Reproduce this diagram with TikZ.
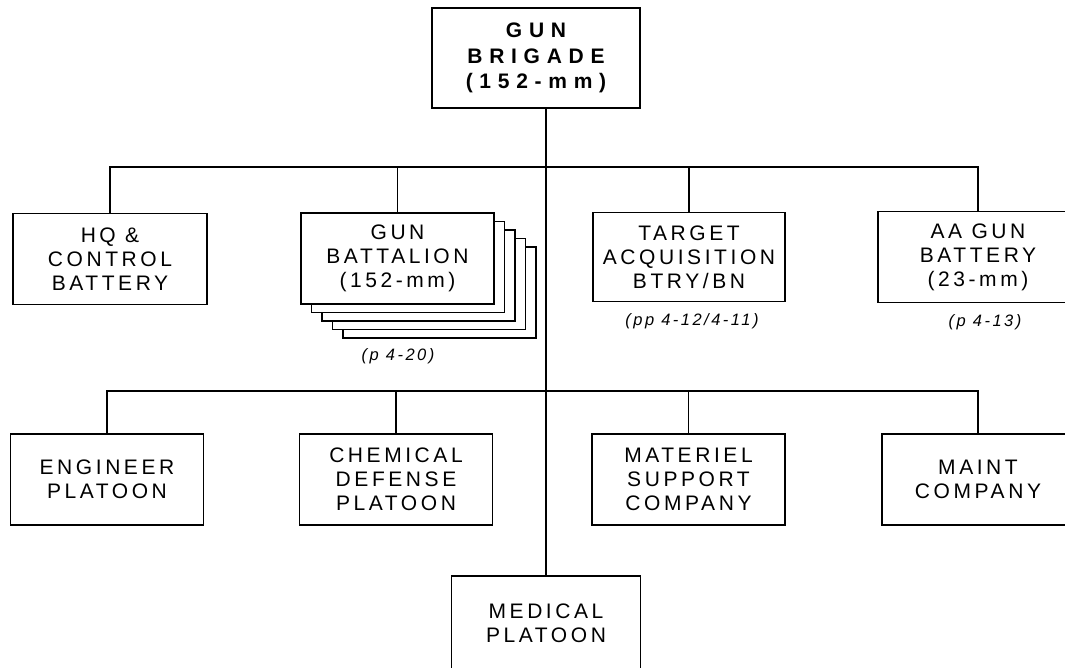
\documentclass[tikz,border=0pt]{standalone}
\usepackage{fontspec}
\setmainfont{Liberation Sans}
\newfontfamily\boxfont{Liberation Sans}[LetterSpace=17]
\newfontfamily\topfont{Liberation Sans}[LetterSpace=32]
\newfontfamily\notefont{Liberation Sans}[LetterSpace=15]
\tikzset{
  unit/.style={draw=black, line width=1.6pt, fill=white, inner sep=0pt, align=center,
    minimum width=193pt, minimum height=91pt,
    font=\boxfont\fontsize{21}{24}\selectfont},
  topunit/.style={unit, minimum width=208pt, minimum height=100pt,
    font=\topfont\bfseries\fontsize{21}{25.5}\selectfont},
  stackbox/.style={draw=black, line width=1.6pt, fill=white, minimum width=193pt, minimum height=91pt, inner sep=0pt},
  note/.style={inner sep=0pt, font=\notefont\itshape\fontsize{16.5}{19}\selectfont},
  link/.style={line width=1.6pt}
}
\begin{document}
\begin{tikzpicture}[x=1pt,y=-1pt]
\useasboundingbox (0,0) rectangle (1065,667);
\clip (0,0) rectangle (1065,667);
% top
\node[topunit] (top) at (536,58) {GUN\\BRIGADE\\(152-mm)};
% row 1
\node[unit, minimum width=194pt] (hq) at (110,259) {HQ \&\\CONTROL\\BATTERY};
\foreach \k in {4,3,2,1} {
  \node[stackbox] (gunback\k) at ({397.5+10.5*\k},{258.5+8.5*\k}) {};
}
\node[unit] (gun) at (397.5,258.5) {GUN\\BATTALION\\(152-mm)};
\node[unit, minimum width=192pt, minimum height=89pt] (ta) at (689,257) {TARGET\\ACQUISITION\\BTRY/BN};
\node[unit, minimum width=200pt] (aa) at (978,257) {AA GUN\\BATTERY\\(23-mm)};
% notes
\node[note] (n1) at (398,356) {(p 4-20)};
\node[note] (n2) at (692,321) {(pp 4-12/4-11)};
\node[note] (n3) at (985,322) {(p 4-13)};
% row 2
\node[unit] (eng) at (107,479.5) {ENGINEER\\PLATOON};
\node[unit] (chem) at (396,479.5) {CHEMICAL\\DEFENSE\\PLATOON};
\node[unit] (mat) at (688.5,479.5) {MATERIEL\\SUPPORT\\COMPANY};
\node[unit, minimum width=192pt] (maint) at (978,479.5) {MAINT\\COMPANY};
% medical
\node[unit, minimum width=189pt, minimum height=95pt] (med) at (546,623.5) {MEDICAL\\PLATOON};
% buses
\coordinate (bus1) at (546,167);
\coordinate (bus2) at (546,391);
\draw[link] (top.south -| med.north) -- (med.north);
\draw[link] (hq.north) |- (bus1) -| (aa.north);
\draw[link] (gun.north) -- (gun.north |- bus1);
\draw[link] (ta.north) -- (ta.north |- bus1);
\draw[link] (eng.north) |- (bus2) -| (maint.north);
\draw[link] (chem.north) -- (chem.north |- bus2);
\draw[link] (mat.north) -- (mat.north |- bus2);
\end{tikzpicture}
\end{document}
